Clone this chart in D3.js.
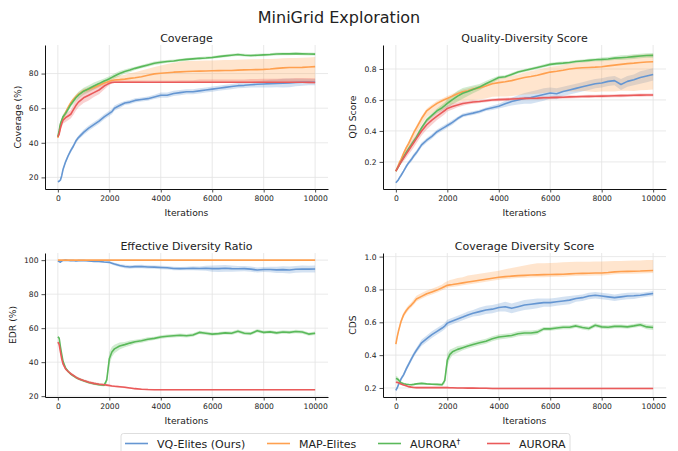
<!DOCTYPE html>
<html><head><meta charset="utf-8">
<script src="https://cdn.jsdelivr.net/npm/d3@7"></script>
<style>body{margin:0;background:#fff}svg{display:block}text{font-family:"DejaVu Sans",sans-serif;fill:#222}</style>
</head><body><svg id="c" width="678" height="451"></svg>
<script>
const iters = [0,50,100,150,200,300,400,500,600,700,800,1000,
 1200,1400,1600,1800,1900,2000,2100,2200,2400,2600,2800,3000,
 3250,3500,3750,4000,4250,4500,4750,5000,5250,5500,5750,6000,6250,6500,6750,7000,7250,7500,7750,8000,8250,8500,8750,9000,9250,9500,9750,10000];
const xTicks = [0,2000,4000,6000,8000,10000];
const seriesNames = ["VQ-Elites (Ours)","MAP-Elites","AURORA\u2020","AURORA"];
const colors = ["#6596d2","#ffa04f","#5ab95a","#ea5a5a"];

// ---------- Coverage ----------
const covVQ = [17.5,17.8,18.5,21,24.5,29,32.5,35.5,38,41,43,46,
 48.5,50.5,52.5,55,56,57,58,60,61.5,63,63.5,64.5,
 65,65.5,66.5,67.5,67.5,68.5,69,69.5,69.5,70,70.5,71,71.5,72,72.5,73,73.2,73.5,73.8,74,74.2,74.3,74.5,74.6,74.8,75,75,75];
const covVQsd = [0.5,0.5,0.6,0.8,1,1,1.2,1.2,1.2,1.2,1.2,1.5,
 1.5,1.5,1.5,1.5,1.5,1.5,1.5,1.5,1.5,1.2,1.2,1.2,
 1.2,1.2,1.2,1.5,1.5,1.5,1.5,1.5,1.5,1.5,1.5,1.5,1.5,1.5,1.5,1.5,1.5,1.5,1.8,2,2.2,2.2,2.5,2.5,2.2,2,1.8,1.8];
const covMAP = [42.8,46,50,52.5,54.5,57.5,60.5,63,65,66.5,68,70,
 71,72,73.2,74.5,75,75.5,76,76.3,76.5,76.8,77.2,77.6,
 78.2,79,79.8,80.2,80.5,80.8,81,81.2,81.3,81.4,81.5,81.6,81.7,81.8,81.8,82,82.1,82.2,82.3,82.4,82.6,83,83.3,83.5,83.5,83.6,83.8,84];
const covMAPup = [0.5,0.8,1,1,1,1.2,1.2,1.2,1.2,1.2,1.2,1.2,
 1.2,1.2,1.5,1.5,1.5,1.5,1.8,2,2.2,2.5,3,3.2,
 3.5,3.8,4,4.5,5,5.5,5.8,6,6,6,6,6,6,6,6,6,6,6,6,6,5.8,5.6,5.5,5.5,5.5,5.5,5.5,5.5];
const covMAPdn = [0.5,0.8,1,1,1,1.2,1.2,1.2,1.2,1.2,1.2,1.2,
 1.2,1.2,1.2,1.2,1,0.8,1,1.2,1.5,1.8,2.2,2.6,
 3,3.5,4.2,4.8,5.2,5.5,5.8,6,6.2,6.3,6.4,6.5,6.6,6.7,6.7,6.9,7,7.1,7.2,7.3,7.5,7.8,8,8.2,8.2,8.3,8.5,8.7];
const covAUR2 = [43.5,47,51,53,55,57,59.5,62,64,66,67.5,69.8,
 71.2,72.8,74.2,75.7,76.3,77,77.8,78.6,80,81.2,82,83,
 84,85,86,86.5,87,87.3,87.8,88.2,88.5,88.8,89,89.3,89.8,90.2,90.6,91,90.6,90.4,90.6,90.8,91,91.3,91.4,91.4,91.5,91.4,91.3,91.2];
const covAUR2sd = [0.5,1,1.5,1.5,1.5,1.5,1.5,1.5,1.8,1.8,2,2,
 2,2,1.8,1.5,1.5,1.5,1.5,1.5,1.5,1.2,1.2,1,
 1,1,1,1,0.8,0.8,0.8,0.8,0.8,0.8,0.8,0.8,0.8,0.8,0.8,0.8,0.8,0.8,0.8,0.8,0.8,0.8,0.8,0.8,0.8,0.8,0.8,0.8];
const covAUR = [43.5,45,48.5,51,53,54.5,55.5,56.5,59,61.5,63.5,66,
 67.5,69,70.5,72.8,73.6,74.4,74.8,75,75,75,75,75,
 75,75,75,75,75,75,75,75,75,75,75,75,75,75,75,75,75,75,75,75,75,75,75,75,75,75,74.9,74.8];
const covAURup = [0.5,1,1.5,2,2,2.5,2.5,2.5,3,3,3,3,
 3,2.5,2.5,2,1.5,1.2,1,1,1,1,1,1,
 1,1,1,1,1,1,1.2,1.2,1.2,1.5,1.5,1.5,1.5,1.5,1.5,1.5,1.5,1.8,1.8,2,2,2,2.2,2.2,2.5,2.5,2.5,2.5];
const covAURdn = [0.5,1,1.5,2,2,2.5,2.5,2.5,3,3,3,3,
 3,2.5,2.5,2,1.5,1,0.6,0.5,0.5,0.5,0.5,0.5,
 0.5,0.5,0.5,0.5,0.5,0.5,0.5,0.5,0.5,0.5,0.5,0.5,0.5,0.5,0.5,0.5,0.5,0.5,0.5,0.5,0.5,0.5,0.5,0.5,0.5,0.5,0.5,0.5];
const covTicks = [20,40,60,80];

// ---------- QD Score ----------
const qdVQ = [0.065,0.075,0.085,0.1,0.112,0.14,0.17,0.195,0.215,0.24,0.26,0.31,
 0.34,0.365,0.395,0.415,0.425,0.435,0.445,0.455,0.48,0.5,0.508,0.515,
 0.525,0.54,0.55,0.56,0.575,0.59,0.6,0.61,0.615,0.625,0.635,0.645,0.64,0.655,0.665,0.675,0.685,0.695,0.705,0.71,0.72,0.725,0.7,0.72,0.73,0.745,0.755,0.765];
const qdVQsd = [0.005,0.005,0.008,0.01,0.01,0.01,0.012,0.012,0.015,0.015,0.015,0.015,
 0.015,0.015,0.015,0.015,0.015,0.015,0.015,0.015,0.012,0.012,0.012,0.012,
 0.012,0.012,0.015,0.015,0.02,0.025,0.03,0.035,0.04,0.04,0.04,0.035,0.035,0.03,0.03,0.03,0.03,0.03,0.03,0.03,0.03,0.03,0.035,0.035,0.035,0.04,0.04,0.04];
const qdMAP = [0.14,0.16,0.18,0.2,0.215,0.255,0.29,0.32,0.355,0.39,0.42,0.48,
 0.53,0.555,0.578,0.595,0.603,0.61,0.617,0.625,0.64,0.653,0.66,0.67,
 0.678,0.69,0.705,0.712,0.718,0.725,0.735,0.745,0.752,0.76,0.77,0.78,0.785,0.792,0.8,0.805,0.808,0.81,0.812,0.815,0.82,0.825,0.83,0.835,0.838,0.842,0.845,0.847];
const qdMAPup = [0.005,0.008,0.01,0.01,0.01,0.012,0.012,0.015,0.015,0.015,0.015,0.015,
 0.015,0.015,0.015,0.015,0.015,0.015,0.015,0.015,0.015,0.015,0.015,0.015,
 0.015,0.018,0.02,0.025,0.03,0.03,0.03,0.032,0.035,0.035,0.035,0.035,0.035,0.035,0.035,0.035,0.038,0.04,0.04,0.042,0.042,0.045,0.045,0.048,0.05,0.05,0.05,0.05];
const qdMAPdn = [0.005,0.008,0.01,0.012,0.015,0.02,0.025,0.03,0.03,0.035,0.035,0.04,
 0.04,0.04,0.04,0.04,0.04,0.04,0.045,0.05,0.055,0.06,0.065,0.07,
 0.075,0.08,0.085,0.09,0.095,0.1,0.105,0.11,0.115,0.12,0.125,0.13,0.135,0.14,0.145,0.15,0.15,0.155,0.16,0.16,0.165,0.17,0.17,0.175,0.18,0.18,0.18,0.18];
const qdAUR2 = [0.14,0.155,0.17,0.185,0.2,0.23,0.26,0.285,0.31,0.335,0.36,0.42,
 0.47,0.5,0.53,0.55,0.563,0.578,0.59,0.602,0.625,0.643,0.655,0.668,
 0.683,0.705,0.725,0.745,0.75,0.765,0.78,0.79,0.8,0.81,0.82,0.83,0.835,0.838,0.842,0.848,0.852,0.856,0.86,0.862,0.865,0.87,0.873,0.876,0.88,0.884,0.887,0.888];
const qdAUR2sd = [0.005,0.008,0.01,0.01,0.01,0.012,0.012,0.015,0.015,0.015,0.015,0.015,
 0.015,0.015,0.015,0.02,0.02,0.025,0.03,0.03,0.035,0.035,0.03,0.025,
 0.02,0.018,0.015,0.012,0.01,0.01,0.01,0.01,0.01,0.01,0.01,0.01,0.01,0.01,0.01,0.01,0.01,0.01,0.01,0.012,0.012,0.012,0.015,0.015,0.015,0.015,0.015,0.015];
const qdAUR = [0.14,0.155,0.17,0.185,0.2,0.225,0.25,0.275,0.3,0.325,0.35,0.4,
 0.44,0.47,0.495,0.52,0.532,0.545,0.552,0.558,0.568,0.577,0.582,0.587,
 0.59,0.595,0.6,0.602,0.604,0.606,0.608,0.61,0.611,0.612,0.614,0.615,0.617,0.618,0.62,0.621,0.622,0.623,0.624,0.625,0.626,0.627,0.628,0.629,0.63,0.631,0.632,0.632];
const qdAURsd = [0.005,0.008,0.01,0.012,0.015,0.02,0.025,0.025,0.03,0.03,0.03,0.03,
 0.03,0.03,0.025,0.025,0.025,0.02,0.02,0.02,0.015,0.015,0.012,0.012,
 0.01,0.01,0.01,0.01,0.01,0.01,0.01,0.01,0.01,0.01,0.01,0.01,0.01,0.01,0.01,0.01,0.01,0.01,0.01,0.01,0.01,0.01,0.01,0.01,0.01,0.01,0.01,0.01];
const qdTicks = [0.2,0.4,0.6,0.8];

// ---------- Effective Diversity Ratio ----------
const edrVQ = [99.5,99.2,98.8,99.5,99.8,100,99.8,99.7,99.8,99.5,99.7,99.8,
 99.5,99.3,99.2,98.9,98.8,98.7,98.2,97.7,96.8,96.3,96,96.2,
 96.3,96,95.9,95.7,95.5,95.1,95,95.1,95.2,95.1,95.2,95,95,95.2,95,94.9,95,94.7,94.2,94.5,94.5,94.3,94.4,94.2,94.6,94.8,94.7,94.8];
const edrVQsd = [0.3,0.3,0.3,0.3,0.3,0.3,0.3,0.3,0.3,0.3,0.3,0.3,
 0.4,0.4,0.5,0.5,0.5,0.6,0.7,0.8,0.9,1,1,1,
 1,1,1,1,1,1,1,1,1.2,1.2,1.5,1.8,2,2,1.8,1.6,1.5,1.5,1.5,1.5,1.6,1.8,2,2,2,2,2,2];
const edrMAP = [100,100,100,100,100,100,100,100,100,100,100,100,
 100,100,100,100,100,100,100,100,100,100,100,100,
 100,100,100,100,100,100,100,100,100,100,100,100,100,100,100,100,100,100,100,100,100,100,100,100,100,100,100,100];
const edrMAPsd = [0,0,0,0,0,0,0,0,0,0,0,0,
 0,0,0,0,0,0,0,0,0,0,0,0,
 0,0,0,0,0,0,0,0,0,0,0,0,0,0,0,0,0,0,0,0,0,0,0,0,0,0,0,0];
const edrAUR2 = [54.8,54.2,49,44.5,40.5,36.5,34.5,33,32,31,30.2,29,
 28,27.3,26.8,26.5,29.5,42,46,47.8,49.5,50.3,51.2,52,
 52.6,53.5,54,54.8,55.2,55.5,55.8,55.5,56,57.5,57,56.5,56.8,57.2,57,58.2,57,56.8,58.5,57.5,57.8,57.2,57.7,57.5,58,57.7,56.5,57];
const edrAUR2sd = [0.8,0.8,0.8,0.8,0.8,0.7,0.7,0.7,0.7,0.7,0.7,0.7,
 0.7,0.7,0.7,0.8,2,4,3,2.5,2,1.5,1.5,1.2,
 1.2,1.2,1,1,1,1,1,1,1,1,1,1,1,1,1,1,1,1,1,1,1,1,1,1,1,1,1,1];
const edrAUR = [51.8,50.5,46,42,39,36,34.5,33.2,32.2,31.2,30.3,29.2,
 28.2,27.5,27,26.7,26.5,26.3,26,25.8,25.5,25.2,24.8,24.4,
 24.1,23.9,23.8,23.8,23.8,23.8,23.8,23.8,23.8,23.8,23.8,23.8,23.8,23.8,23.8,23.8,23.8,23.8,23.8,23.8,23.8,23.8,23.8,23.8,23.8,23.8,23.8,23.8];
const edrAURsd = [1,1,1,1,1,0.8,0.8,0.8,0.8,0.8,0.8,0.8,
 0.8,0.8,0.7,0.7,0.7,0.7,0.6,0.6,0.6,0.5,0.5,0.5,
 0.4,0.4,0.4,0.4,0.4,0.4,0.4,0.4,0.4,0.4,0.4,0.4,0.4,0.4,0.4,0.4,0.4,0.4,0.4,0.4,0.4,0.4,0.4,0.4,0.4,0.4,0.4,0.4];
const edrTicks = [20,40,60,80,100];

// ---------- Coverage Diversity Score ----------
const cdsVQ = [0.185,0.2,0.22,0.235,0.255,0.28,0.315,0.345,0.375,0.405,0.43,0.475,
 0.5,0.525,0.545,0.565,0.577,0.595,0.602,0.608,0.62,0.632,0.645,0.655,
 0.665,0.675,0.68,0.69,0.695,0.685,0.695,0.705,0.71,0.715,0.72,0.72,0.725,0.73,0.735,0.745,0.75,0.76,0.765,0.76,0.755,0.75,0.755,0.76,0.762,0.765,0.77,0.775];
const cdsVQsd = [0.008,0.008,0.01,0.01,0.012,0.012,0.015,0.015,0.015,0.015,0.015,0.02,
 0.02,0.02,0.02,0.02,0.02,0.02,0.02,0.02,0.02,0.02,0.02,0.02,
 0.025,0.025,0.025,0.025,0.03,0.03,0.03,0.03,0.03,0.03,0.025,0.025,0.025,0.025,0.025,0.02,0.02,0.02,0.02,0.02,0.02,0.02,0.02,0.02,0.02,0.015,0.015,0.015];
const cdsMAP = [0.467,0.51,0.545,0.575,0.605,0.645,0.67,0.69,0.705,0.722,0.742,0.758,
 0.774,0.785,0.796,0.81,0.818,0.825,0.828,0.83,0.835,0.84,0.845,0.85,
 0.856,0.862,0.868,0.874,0.878,0.881,0.884,0.886,0.888,0.889,0.89,0.891,0.892,0.893,0.895,0.897,0.898,0.899,0.9,0.9,0.903,0.907,0.909,0.91,0.911,0.912,0.914,0.915];
const cdsMAPup = [0.008,0.01,0.012,0.015,0.015,0.015,0.015,0.015,0.015,0.02,0.02,0.02,
 0.02,0.02,0.02,0.02,0.025,0.025,0.03,0.03,0.035,0.035,0.04,0.04,
 0.04,0.04,0.04,0.04,0.045,0.05,0.055,0.06,0.065,0.07,0.07,0.07,0.07,0.072,0.072,0.072,0.07,0.07,0.07,0.07,0.068,0.066,0.065,0.065,0.065,0.065,0.065,0.065];
const cdsMAPdn = [0.008,0.01,0.012,0.015,0.015,0.015,0.015,0.015,0.015,0.015,0.015,0.015,
 0.015,0.015,0.015,0.015,0.015,0.015,0.015,0.015,0.015,0.015,0.015,0.015,
 0.015,0.015,0.015,0.015,0.015,0.015,0.015,0.015,0.015,0.015,0.015,0.015,0.015,0.015,0.015,0.015,0.015,0.015,0.015,0.015,0.015,0.015,0.015,0.015,0.015,0.015,0.015,0.015];
const cdsAUR2 = [0.258,0.256,0.25,0.24,0.232,0.226,0.223,0.221,0.22,0.222,0.225,0.228,
 0.225,0.223,0.222,0.22,0.245,0.37,0.405,0.42,0.435,0.445,0.455,0.465,
 0.475,0.485,0.5,0.51,0.515,0.52,0.53,0.535,0.535,0.54,0.56,0.56,0.565,0.57,0.57,0.578,0.568,0.562,0.582,0.572,0.57,0.575,0.575,0.572,0.578,0.585,0.572,0.568];
const cdsAUR2sd = [0.015,0.015,0.012,0.01,0.008,0.006,0.005,0.005,0.005,0.005,0.005,0.005,
 0.005,0.005,0.005,0.008,0.02,0.04,0.03,0.02,0.02,0.015,0.015,0.015,
 0.015,0.015,0.015,0.015,0.015,0.015,0.015,0.015,0.015,0.015,0.012,0.012,0.012,0.012,0.012,0.012,0.012,0.012,0.012,0.012,0.012,0.012,0.012,0.012,0.012,0.012,0.015,0.015];
const cdsAUR = [0.235,0.234,0.232,0.228,0.224,0.218,0.213,0.208,0.205,0.203,0.202,0.202,
 0.202,0.202,0.202,0.202,0.202,0.202,0.201,0.201,0.2,0.2,0.199,0.199,
 0.198,0.198,0.197,0.197,0.197,0.197,0.197,0.197,0.197,0.197,0.197,0.197,0.197,0.197,0.197,0.197,0.197,0.197,0.197,0.197,0.197,0.197,0.197,0.197,0.197,0.197,0.197,0.197];
const cdsAURsd = [0.006,0.006,0.006,0.006,0.006,0.005,0.005,0.005,0.005,0.005,0.005,0.005,
 0.005,0.005,0.005,0.005,0.005,0.005,0.005,0.005,0.005,0.005,0.005,0.005,
 0.005,0.005,0.005,0.005,0.005,0.005,0.005,0.005,0.005,0.005,0.005,0.005,0.005,0.005,0.005,0.005,0.005,0.005,0.005,0.005,0.005,0.005,0.005,0.005,0.005,0.005,0.005,0.005];
const cdsTicks = [0.2,0.4,0.6,0.8,1.0];

// ---------- build panels ----------
const panels = [
 {title:"Coverage", ylabel:"Coverage (%)", dom:[13.3,96.5], ticks:covTicks, fmt:d3.format("d"),
  box:{l:45,r:328,t:45,b:189}, ylx:18,
  s:[[covVQ,covVQsd,covVQsd],[covMAP,covMAPup,covMAPdn],[covAUR2,covAUR2sd,covAUR2sd],[covAUR,covAURup,covAURdn]]},
 {title:"Quality-Diversity Score", ylabel:"QD Score", dom:[0.025,0.955], ticks:qdTicks, fmt:d3.format(".1f"),
  box:{l:383,r:666,t:45,b:189}, ylx:353,
  s:[[qdVQ,qdVQsd,qdVQsd],[qdMAP,qdMAPup,qdMAPdn],[qdAUR2,qdAUR2sd,qdAUR2sd],[qdAUR,qdAURsd,qdAURsd]]},
 {title:"Effective Diversity Ratio", ylabel:"EDR (%)", dom:[19.5,104.2], ticks:edrTicks, fmt:d3.format("d"),
  box:{l:45,r:328,t:253,b:397}, ylx:13,
  s:[[edrVQ,edrVQsd,edrVQsd],[edrMAP,edrMAPsd,edrMAPsd],[edrAUR2,edrAUR2sd,edrAUR2sd],[edrAUR,edrAURsd,edrAURsd]]},
 {title:"Coverage Diversity Score", ylabel:"CDS", dom:[0.145,1.022], ticks:cdsTicks, fmt:d3.format(".1f"),
  box:{l:383,r:666,t:253,b:397}, ylx:353,
  s:[[cdsVQ,cdsVQsd,cdsVQsd],[cdsMAP,cdsMAPup,cdsMAPdn],[cdsAUR2,cdsAUR2sd,cdsAUR2sd],[cdsAUR,cdsAURsd,cdsAURsd]]}
];

const svg = d3.select("#c");
svg.append("text").attr("x",339).attr("y",23).attr("text-anchor","middle")
  .style("font-size","16px").text("MiniGrid Exploration");

panels.forEach(p=>{
  const b=p.box;
  const x=d3.scaleLinear().domain([-500,10500]).range([b.l,b.r]);
  const y=d3.scaleLinear().domain(p.dom).range([b.b,b.t]);
  const g=svg.append("g");
  // grid
  g.selectAll(".gx").data(xTicks).join("line").attr("x1",d=>x(d)).attr("x2",d=>x(d))
   .attr("y1",b.t).attr("y2",b.b).attr("stroke","#e3e3e3").attr("stroke-width",0.8);
  g.selectAll(".gy").data(p.ticks).join("line").attr("y1",d=>y(d)).attr("y2",d=>y(d))
   .attr("x1",b.l).attr("x2",b.r).attr("stroke","#e3e3e3").attr("stroke-width",0.8);
  // bands + lines
  p.s.forEach((s,k)=>{
    const [m,up,dn]=s;
    const area=d3.area().x((d,i)=>x(iters[i])).y0((d,i)=>y(m[i]-dn[i])).y1((d,i)=>y(m[i]+up[i]));
    g.append("path").attr("d",area(m)).attr("fill",colors[k]).attr("fill-opacity",0.28);
  });
  p.s.forEach((s,k)=>{
    const m=s[0];
    const line=d3.line().x((d,i)=>x(iters[i])).y(d=>y(d));
    g.append("path").attr("d",line(m)).attr("fill","none").attr("stroke",colors[k])
     .attr("stroke-width",1.6).attr("stroke-linejoin","round");
  });
  // axes
  const ax=g.append("g").attr("transform",`translate(0,${b.b})`)
    .call(d3.axisBottom(x).tickValues(xTicks).tickFormat(d3.format("d")).tickSize(3.5).tickPadding(3).tickSizeOuter(0));
  const ay=g.append("g").attr("transform",`translate(${b.l},0)`)
    .call(d3.axisLeft(y).tickValues(p.ticks).tickFormat(p.fmt).tickSize(3.5).tickPadding(3).tickSizeOuter(0));
  [ax,ay].forEach(a=>{
    a.selectAll("text").style("font-size","7.6px").style("font-family","DejaVu Sans").attr("fill","#222");
    a.selectAll("line").attr("stroke","#222").attr("stroke-width",0.8);
    a.select(".domain").attr("stroke","#111").attr("stroke-width",1);
  });
  g.append("text").attr("x",(b.l+b.r)/2).attr("y",b.t-3).attr("text-anchor","middle")
   .style("font-size","11px").text(p.title);
  g.append("text").attr("x",(b.l+b.r)/2).attr("y",b.b+27).attr("text-anchor","middle")
   .style("font-size","9.2px").text("Iterations");
  g.append("text").attr("transform",`translate(${p.ylx},${(b.t+b.b)/2}) rotate(-90)`)
   .attr("text-anchor","middle").attr("dy","0.35em").style("font-size","9.2px").text(p.ylabel);
});

// legend
const lg=svg.append("g");
lg.append("rect").attr("x",121).attr("y",433.5).attr("width",449).attr("height",22).attr("rx",2.5)
  .attr("fill","#fff").attr("stroke","#d5d5d5").attr("stroke-width",0.8);
const lx=[125,267,378,487];
seriesNames.forEach((n,k)=>{
  lg.append("line").attr("x1",lx[k]).attr("x2",lx[k]+23).attr("y1",443.5).attr("y2",443.5)
    .attr("stroke",colors[k]).attr("stroke-width",1.6);
  const t=lg.append("text").attr("x",lx[k]+32).attr("y",447.5).style("font-size","11px");
  if(n.endsWith("\u2020")){
    t.append("tspan").text(n.slice(0,-1));
    t.append("tspan").attr("dy","-4").style("font-size","7.5px").text("\u2020");
  } else t.text(n);
});
</script></body></html>
